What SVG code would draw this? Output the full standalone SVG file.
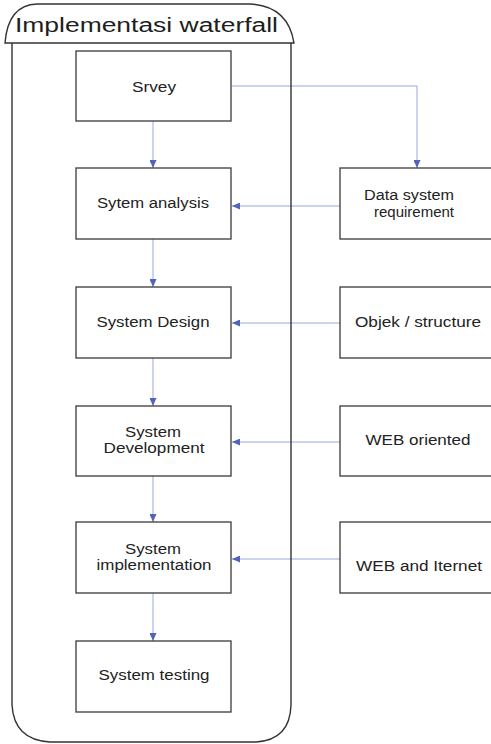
<svg xmlns="http://www.w3.org/2000/svg" width="491" height="744" viewBox="0 0 491 744">
<style>
.box{fill:#fff;stroke:#3a3a3a;stroke-width:1.3}
.cont{fill:none;stroke:#333;stroke-width:1.4}
.t{font-family:"Liberation Sans",Arial,sans-serif;font-size:14px;fill:#222;text-anchor:middle}
.title{font-family:"Liberation Sans",Arial,sans-serif;font-size:20px;fill:#1e1e1e}
.c{fill:none;stroke:#9aa8dc;stroke-width:1}
</style>
<defs>
<marker id="ah" markerUnits="userSpaceOnUse" markerWidth="8" markerHeight="7" refX="8" refY="3.5" orient="auto">
<path d="M0,0 L8,3.5 L0,7 z" fill="#5463b8"/>
</marker>
</defs>
<rect width="491" height="744" fill="#fff"/>
<g id="connectors">
<path class="c" d="M232,86 L417,86 L417,168" marker-end="url(#ah)"/>
<path class="c" d="M153,121 L153,168" marker-end="url(#ah)"/>
<path class="c" d="M153,239 L153,287" marker-end="url(#ah)"/>
<path class="c" d="M153,358 L153,406" marker-end="url(#ah)"/>
<path class="c" d="M153,476 L153,522" marker-end="url(#ah)"/>
<path class="c" d="M153,593 L153,641" marker-end="url(#ah)"/>
<path class="c" d="M340,206 L232,206" marker-end="url(#ah)"/>
<path class="c" d="M340,323 L232,323" marker-end="url(#ah)"/>
<path class="c" d="M340,442 L232,442" marker-end="url(#ah)"/>
<path class="c" d="M340,559 L232,559" marker-end="url(#ah)"/>
</g>
<g id="container">
<path class="cont" d="M5,43 Q8,5 37,4 L250,4 Q288,6 294,43 Z"/>
<path class="cont" d="M12,43 L12,705 Q14,740 50,742 L256,742 Q290,740 291,705 L291,43"/>
<text class="title" x="15" y="32" textLength="263" lengthAdjust="spacingAndGlyphs">Implementasi waterfall</text>
</g>
<g id="srvey">
<rect class="box" x="76" y="51" width="155" height="70"/>
<text class="t" x="154" y="92" textLength="44" lengthAdjust="spacingAndGlyphs">Srvey</text>
</g>
<g id="analysis">
<rect class="box" x="76" y="168" width="155" height="71"/>
<text class="t" x="153" y="208" textLength="112" lengthAdjust="spacingAndGlyphs">Sytem analysis</text>
</g>
<g id="design">
<rect class="box" x="76" y="287" width="155" height="71"/>
<text class="t" x="153" y="327" textLength="113" lengthAdjust="spacingAndGlyphs">System Design</text>
</g>
<g id="development">
<rect class="box" x="76" y="406" width="155" height="70"/>
<text class="t" x="153" y="437" textLength="56" lengthAdjust="spacingAndGlyphs">System</text>
<text class="t" x="154" y="453" textLength="101" lengthAdjust="spacingAndGlyphs">Development</text>
</g>
<g id="implementation">
<rect class="box" x="76" y="522" width="155" height="71"/>
<text class="t" x="153" y="554" textLength="56" lengthAdjust="spacingAndGlyphs">System</text>
<text class="t" x="154" y="570" textLength="115" lengthAdjust="spacingAndGlyphs">implementation</text>
</g>
<g id="testing">
<rect class="box" x="76" y="641" width="155" height="71"/>
<text class="t" x="154" y="680" textLength="111" lengthAdjust="spacingAndGlyphs">System testing</text>
</g>
<g id="data">
<rect class="box" x="340" y="168" width="160" height="71"/>
<text class="t" x="409" y="200" textLength="90" lengthAdjust="spacingAndGlyphs">Data system</text>
<text class="t" x="414" y="217" textLength="80" lengthAdjust="spacingAndGlyphs">requirement</text>
</g>
<g id="objek">
<rect class="box" x="340" y="287" width="160" height="71"/>
<text class="t" x="418" y="327" textLength="126" lengthAdjust="spacingAndGlyphs">Objek / structure</text>
</g>
<g id="weboriented">
<rect class="box" x="340" y="406" width="160" height="70"/>
<text class="t" x="418" y="445" textLength="105" lengthAdjust="spacingAndGlyphs">WEB oriented</text>
</g>
<g id="webinternet">
<rect class="box" x="340" y="522" width="160" height="71"/>
<text class="t" x="419" y="571" textLength="126" lengthAdjust="spacingAndGlyphs">WEB and Iternet</text>
</g>
</svg>
